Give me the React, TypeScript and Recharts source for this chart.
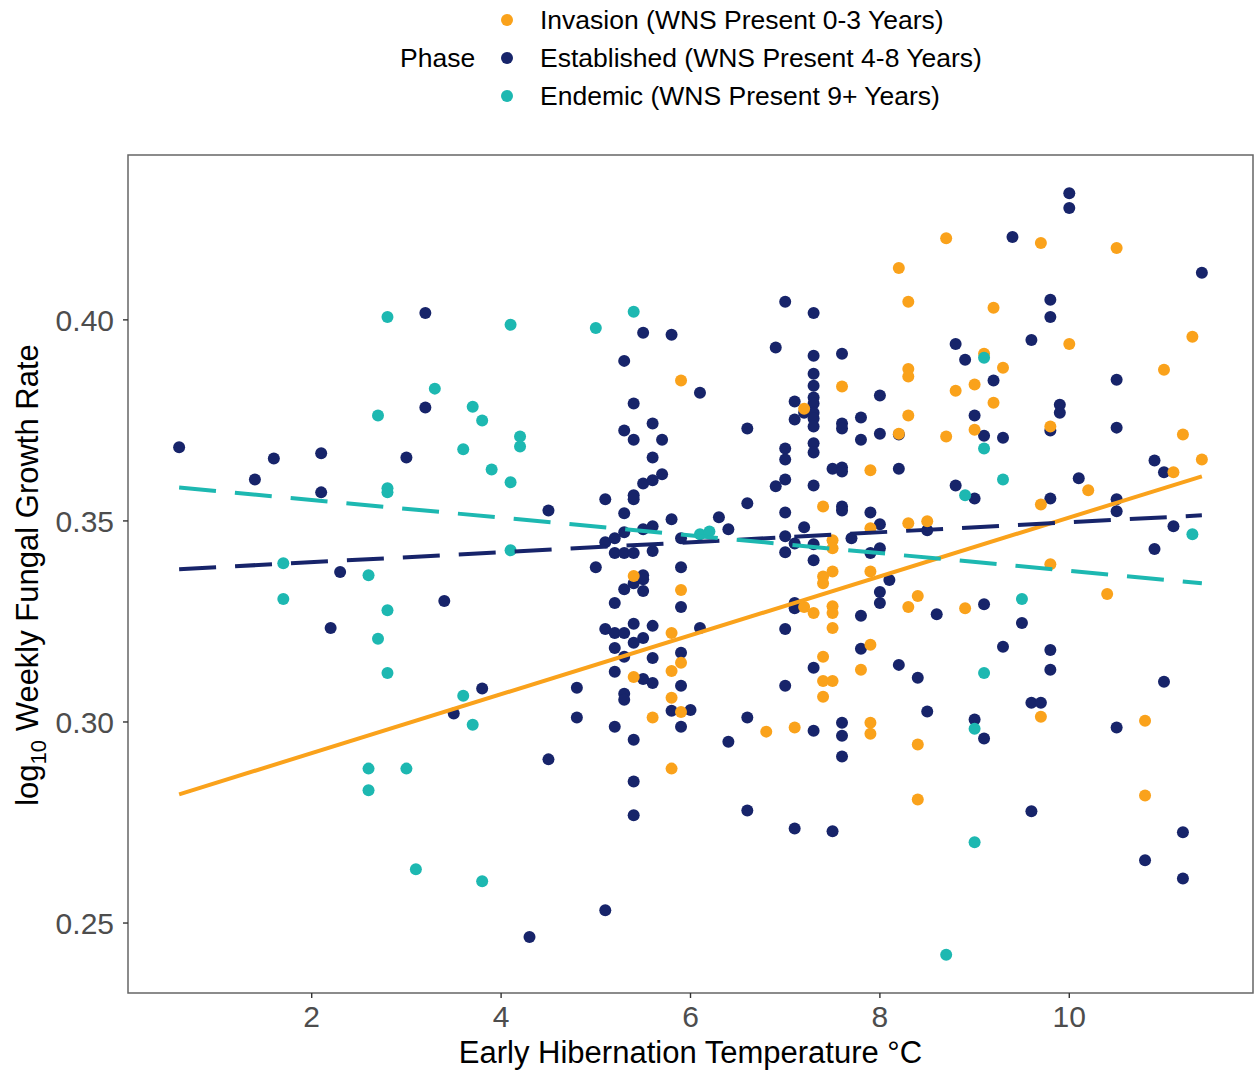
import React from "react";
import { ScatterChart, Scatter, XAxis, YAxis, ReferenceArea } from "recharts";

const FONT = '"Liberation Sans", Arial, Helvetica, sans-serif';

const phaseNames = [
  "Invasion (WNS Present 0-3 Years)",
  "Established (WNS Present 4-8 Years)",
  "Endemic (WNS Present 9+ Years)",
];
const phaseColors = ["#FAA21B", "#17246A", "#1DB8B1"];

const xTicks = [2, 4, 6, 8, 10];
const yTicks = [0.25, 0.3, 0.35, 0.4];
const xDomain: [number, number] = [0.06, 11.94];
const yDomain: [number, number] = [0.2326, 0.441];

// [temperature, log10 growth rate]
const invasion: [number, number][] = [
  [5.9, 0.3849], [7.6, 0.3834], [7.2, 0.3779], [7.9, 0.3626], [7.4, 0.3536], [7.9, 0.3482],
  [7.5, 0.3452], [7.5, 0.3432], [7.9, 0.3374], [7.5, 0.3374], [7.4, 0.3362],
  [5.4, 0.3363], [5.9, 0.3328], [5.8, 0.3221], [5.9, 0.3147], [5.8, 0.3127], [5.4, 0.3112],
  [5.8, 0.306], [5.9, 0.3025], [5.6, 0.3011], [5.8, 0.2884],
  [6.8, 0.2976], [7.1, 0.2986], [7.2, 0.3286], [7.3, 0.3271], [7.4, 0.3345], [7.5, 0.3288],
  [7.5, 0.3271], [7.5, 0.3234], [7.4, 0.3162], [7.4, 0.3102], [7.5, 0.3102], [7.4, 0.3063],
  [7.9, 0.3192], [7.8, 0.313], [7.9, 0.2998], [7.9, 0.2971],
  [8.7, 0.4203], [9.7, 0.4191], [10.5, 0.4179], [8.2, 0.4129], [8.3, 0.4045], [9.2, 0.403],
  [10.0, 0.394], [11.3, 0.3958], [9.1, 0.3916], [9.3, 0.3881], [8.3, 0.3878], [8.3, 0.3859],
  [9.0, 0.3839], [8.8, 0.3824], [11.0, 0.3876], [8.3, 0.3762], [9.2, 0.3794], [9.8, 0.3735],
  [8.7, 0.371], [9.0, 0.3727], [8.2, 0.3717], [11.2, 0.3715], [11.1, 0.3621], [11.4, 0.3653],
  [10.2, 0.3576], [9.7, 0.3541], [8.3, 0.3494], [8.5, 0.3499], [9.8, 0.3392],
  [8.4, 0.3313], [8.3, 0.3286], [8.9, 0.3283], [10.4, 0.3318], [9.7, 0.3013], [10.8, 0.3003],
  [8.4, 0.2944], [8.4, 0.2807], [10.8, 0.2817],
];

const established: [number, number][] = [
  [0.6, 0.3683], [1.4, 0.3603], [1.6, 0.3655], [2.1, 0.3668], [2.1, 0.3571], [3.0, 0.3658],
  [3.2, 0.4017], [3.2, 0.3782], [2.3, 0.3373], [3.4, 0.3301], [2.2, 0.3234], [3.8, 0.3083],
  [3.5, 0.3021], [4.3, 0.2465], [4.5, 0.2907], [4.5, 0.3526], [4.8, 0.3085], [4.8, 0.3011],
  [5.1, 0.2532],
  [5.5, 0.3968], [5.8, 0.3963], [5.3, 0.3898], [6.1, 0.3819], [5.4, 0.3792], [5.6, 0.3742],
  [5.3, 0.3725], [5.4, 0.3702], [5.7, 0.3702], [5.6, 0.3658], [5.7, 0.3616], [5.5, 0.3593],
  [5.6, 0.3601], [5.4, 0.3564], [5.4, 0.3554], [5.1, 0.3554], [5.3, 0.3519], [5.8, 0.3504],
  [5.5, 0.3479], [5.6, 0.3487], [5.3, 0.3472], [5.1, 0.3447], [5.2, 0.3457], [5.2, 0.342],
  [5.3, 0.342], [5.4, 0.342], [5.6, 0.3425], [5.9, 0.3457], [5.0, 0.3385], [5.9, 0.3385],
  [5.5, 0.3365],
  [6.6, 0.373], [6.3, 0.3509], [6.4, 0.3479], [6.6, 0.3544],
  [7.0, 0.4045], [7.3, 0.4017], [6.9, 0.3931], [7.3, 0.3911], [7.6, 0.3916], [7.3, 0.3866],
  [7.3, 0.3836], [7.1, 0.3797], [7.2, 0.3769], [7.3, 0.3807], [7.3, 0.3792], [7.3, 0.3769],
  [7.3, 0.3755], [7.3, 0.3735], [7.1, 0.3752], [7.6, 0.3742], [7.6, 0.373], [7.8, 0.3757],
  [8.0, 0.3812], [8.0, 0.3717], [7.8, 0.3702], [7.3, 0.3693], [7.3, 0.367], [7.0, 0.368],
  [7.0, 0.3653], [7.5, 0.363], [7.6, 0.3633], [7.6, 0.3623], [7.0, 0.3603], [6.9, 0.3586],
  [7.3, 0.3588], [7.6, 0.3536], [7.6, 0.3526], [7.0, 0.3521], [7.9, 0.3521], [7.2, 0.3484],
  [7.0, 0.3462], [7.0, 0.3422], [7.1, 0.3444], [7.3, 0.3442], [7.3, 0.3402], [7.7, 0.3457],
  [7.9, 0.342],
  [5.5, 0.3355], [5.4, 0.3345], [5.3, 0.333], [5.5, 0.3326], [5.2, 0.3296], [5.9, 0.3286],
  [5.1, 0.3231], [5.2, 0.3221], [5.3, 0.3221], [5.4, 0.3244], [5.6, 0.3239], [6.1, 0.3234],
  [5.5, 0.3209], [5.4, 0.3197], [5.2, 0.3184], [5.3, 0.3162], [5.9, 0.3172], [5.6, 0.3159],
  [5.2, 0.3125], [5.5, 0.3107], [5.6, 0.3097], [5.9, 0.309], [5.3, 0.307], [5.3, 0.3055],
  [5.8, 0.3028], [6.0, 0.303], [5.2, 0.2988], [5.9, 0.2988], [5.4, 0.2956], [5.4, 0.2852],
  [5.4, 0.2768],
  [6.4, 0.2951], [6.6, 0.3011], [6.6, 0.278], [7.1, 0.2735], [7.5, 0.2728], [7.0, 0.3231],
  [7.0, 0.309], [7.1, 0.3296], [7.1, 0.3283], [7.3, 0.3135], [7.3, 0.2978], [7.6, 0.2998],
  [7.6, 0.2966], [7.6, 0.2914], [7.8, 0.3264], [7.8, 0.3182], [8.0, 0.3323], [8.0, 0.3296],
  [10.0, 0.4315], [10.0, 0.4278], [9.4, 0.4206], [11.4, 0.4117], [9.8, 0.405], [9.8, 0.4007],
  [9.6, 0.395], [8.8, 0.394], [8.9, 0.3901], [9.2, 0.3849], [10.5, 0.3851], [9.0, 0.3762],
  [9.9, 0.3789], [9.9, 0.3769], [9.8, 0.3725], [10.5, 0.3732], [9.1, 0.3712], [9.3, 0.3707],
  [8.2, 0.3715], [10.9, 0.365], [11.0, 0.3621], [8.2, 0.363], [8.8, 0.3588], [9.0, 0.3556],
  [10.1, 0.3606], [9.8, 0.3556], [10.5, 0.3554], [10.5, 0.3524], [11.1, 0.3487], [10.9, 0.343],
  [8.5, 0.3477], [8.0, 0.3492], [8.0, 0.3432],
  [8.1, 0.3353], [8.6, 0.3268], [9.1, 0.3293], [9.5, 0.3246], [9.3, 0.3187], [9.8, 0.3179],
  [9.8, 0.313], [8.2, 0.3142], [8.4, 0.311], [11.0, 0.31], [8.5, 0.3026], [9.0, 0.3006],
  [9.1, 0.2959], [9.6, 0.3048], [9.7, 0.3048], [10.5, 0.2986], [9.6, 0.2778], [11.2, 0.2726],
  [10.8, 0.2656], [11.2, 0.2611],
];

const endemic: [number, number][] = [
  [2.8, 0.4007], [2.7, 0.3762], [3.3, 0.3829], [3.7, 0.3784], [3.8, 0.375], [3.6, 0.3678],
  [3.9, 0.3628], [2.8, 0.3571], [2.8, 0.3581], [4.1, 0.3988], [4.1, 0.3596], [1.7, 0.3395],
  [2.6, 0.3365], [4.2, 0.371], [4.2, 0.3685], [4.1, 0.3427],
  [1.7, 0.3306], [2.8, 0.3278], [2.7, 0.3207], [2.8, 0.3122], [3.6, 0.3065], [3.7, 0.2993],
  [2.6, 0.2884], [3.0, 0.2884], [2.6, 0.283], [3.1, 0.2634], [3.8, 0.2604],
  [5.0, 0.398], [5.4, 0.402], [6.1, 0.3467], [6.2, 0.3474],
  [9.1, 0.3906], [9.1, 0.368], [8.9, 0.3564], [9.3, 0.3603], [11.3, 0.3467], [9.5, 0.3306],
  [9.1, 0.3122], [9.0, 0.2983], [9.0, 0.2701], [8.7, 0.2421],
];

// linear fits: value at x = 0.6 and x = 11.4
const fitX = [0.6, 11.4];
const invasionFit = [0.282, 0.3611];
const establishedFit = [0.338, 0.3514];
const endemicFit = [0.3583, 0.3345];

const toPts = (arr: [number, number][]) => arr.map(([x, y]) => ({ x, y }));
const toFit = (ys: number[]) => fitX.map((x, i) => ({ x, y: ys[i] }));

const dot = (color: string) => (p: any) =>
  p.cx == null ? <g /> : <circle cx={p.cx} cy={p.cy} r={6} fill={color} />;
const noDot = () => <g />;

const W = 1254;
const H = 1072;

export default function App() {
  return (
    <div
      style={{
        position: "absolute",
        left: 0,
        top: 0,
        width: W,
        height: H,
        overflow: "hidden",
        background: "#fff",
        fontFamily: FONT,
      }}
    >
      <ScatterChart
        width={W}
        height={H}
        margin={{ top: 155, right: 1, bottom: 0, left: 0 }}
        style={{ position: "absolute", left: 0, top: 0 }}
      >
        <XAxis
          type="number"
          dataKey="x"
          domain={xDomain}
          allowDataOverflow
          ticks={xTicks}
          height={79}
          axisLine={false}
          tickLine={{ stroke: "#333333", strokeWidth: 1.4 }}
          tickSize={5}
          tickMargin={8}
          tick={{ fontSize: 30, fill: "#4D4D4D", fontFamily: FONT }}
          label={{
            content: () => (
              <text x={690.5} y={1063} textAnchor="middle" fontSize={31} fill="#000" fontFamily={FONT}>
                Early Hibernation Temperature °C
              </text>
            ),
          }}
        />
        <YAxis
          type="number"
          dataKey="y"
          domain={yDomain}
          allowDataOverflow
          ticks={yTicks}
          width={128}
          axisLine={false}
          tickLine={{ stroke: "#333333", strokeWidth: 1.4 }}
          tickSize={5}
          tickMargin={9}
          tickFormatter={(v: number) => v.toFixed(2)}
          tick={{ fontSize: 30, fill: "#4D4D4D", fontFamily: FONT }}
          label={{
            content: () => (
              <text
                x={38}
                y={575}
                transform="rotate(-90 38 575)"
                textAnchor="middle"
                fontSize={31}
                fill="#000"
                fontFamily={FONT}
              >
                log
                <tspan fontSize={22} dy={8}>10</tspan>
                <tspan dy={-8}> Weekly Fungal Growth Rate</tspan>
              </text>
            ),
          }}
        />
        <ReferenceArea
          x1={xDomain[0]}
          x2={xDomain[1]}
          y1={yDomain[0]}
          y2={yDomain[1]}
          fill="none"
          fillOpacity={0}
          stroke="#666666"
          strokeWidth={1.5}
          ifOverflow="visible"
        />
        <Scatter data={toPts(established)} fill={phaseColors[1]} shape={dot(phaseColors[1])} isAnimationActive={false} />
        <Scatter data={toPts(invasion)} fill={phaseColors[0]} shape={dot(phaseColors[0])} isAnimationActive={false} />
        <Scatter data={toPts(endemic)} fill={phaseColors[2]} shape={dot(phaseColors[2])} isAnimationActive={false} />
        <Scatter
          data={toFit(invasionFit)}
          fill={phaseColors[0]}
          shape={noDot}
          line={{ stroke: phaseColors[0], strokeWidth: 4 }}
          isAnimationActive={false}
        />
        <Scatter
          data={toFit(establishedFit)}
          fill={phaseColors[1]}
          shape={noDot}
          line={{ stroke: phaseColors[1], strokeWidth: 4, strokeDasharray: "37 19" }}
          isAnimationActive={false}
        />
        <Scatter
          data={toFit(endemicFit)}
          fill={phaseColors[2]}
          shape={noDot}
          line={{ stroke: phaseColors[2], strokeWidth: 4, strokeDasharray: "37 19" }}
          isAnimationActive={false}
        />
      </ScatterChart>
      <svg
        width={W}
        height={125}
        style={{ position: "absolute", left: 0, top: 0 }}
        fontFamily={FONT}
      >
        <text x={400} y={58} fontSize={26.5} fill="#000" dominantBaseline="central">
          Phase
        </text>
        {phaseNames.map((n, i) => (
          <g key={n}>
            <circle cx={507} cy={20 + i * 38} r={6} fill={phaseColors[i]} />
            <text x={540} y={20 + i * 38} fontSize={26.5} fill="#000" dominantBaseline="central">
              {n}
            </text>
          </g>
        ))}
      </svg>
    </div>
  );
}
